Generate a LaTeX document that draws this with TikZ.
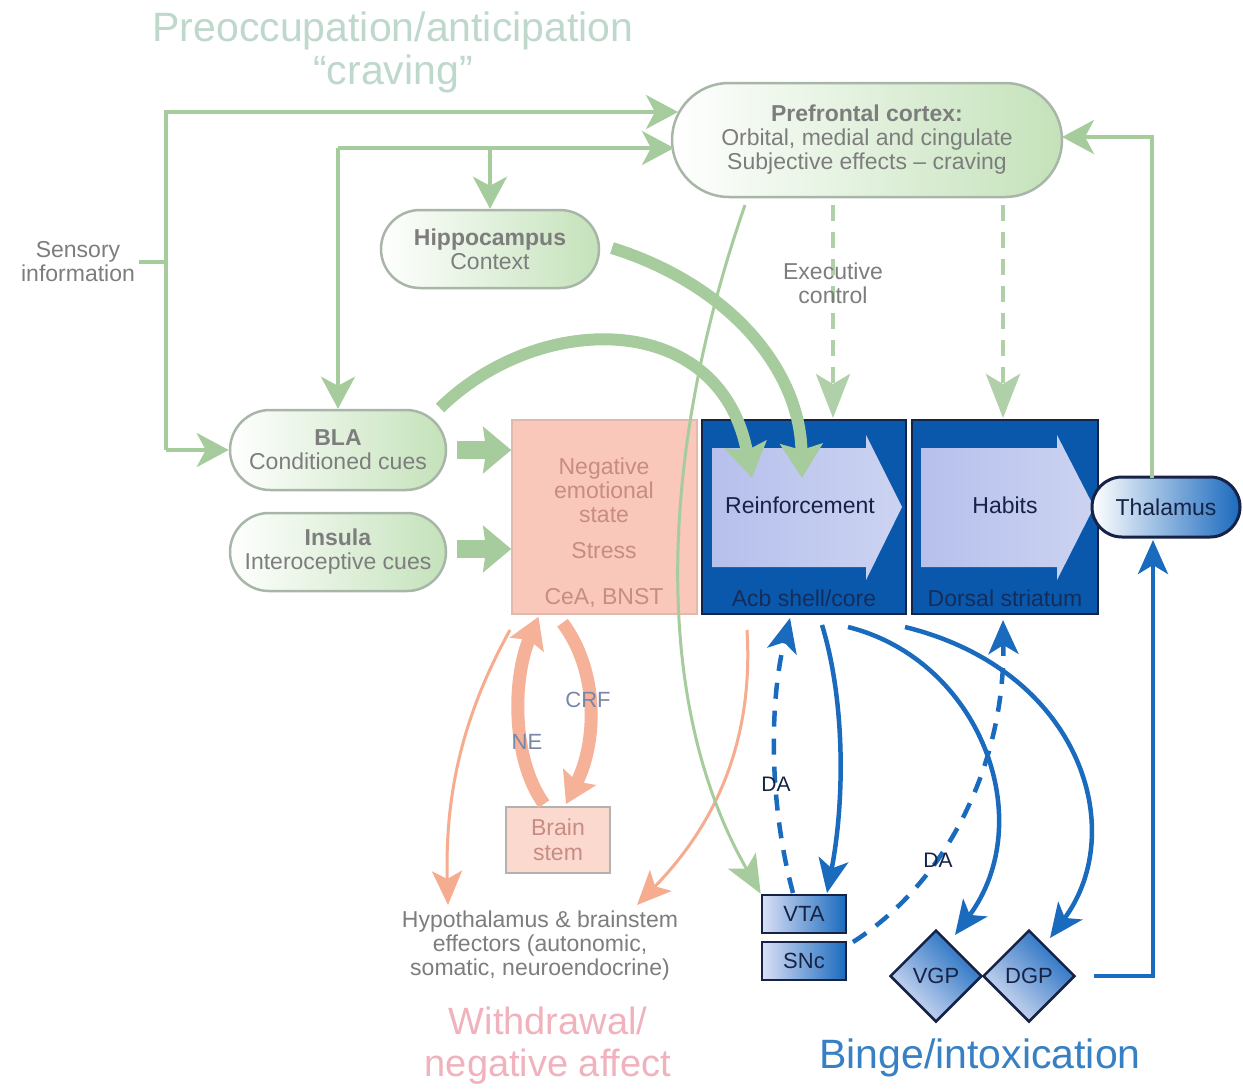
\documentclass[tikz,border=0pt]{standalone}
\usepackage{fontspec}
\setmainfont{Liberation Sans}
\usetikzlibrary{arrows.meta,shapes.geometric,calc}
\definecolor{gline}{RGB}{166,204,158}
\definecolor{gdash}{RGB}{176,208,170}
\definecolor{gfill}{RGB}{196,226,186}
\definecolor{gborder}{RGB}{168,182,168}
\definecolor{gtxt}{RGB}{125,125,125}
\definecolor{sal}{RGB}{246,172,142}
\definecolor{salthick}{RGB}{246,178,152}
\definecolor{salfill}{RGB}{249,200,186}
\definecolor{saltxt}{RGB}{200,140,130}
\definecolor{blu}{RGB}{26,106,190}
\definecolor{dblu}{RGB}{10,88,172}
\definecolor{lav}{RGB}{182,192,236}
\definecolor{navy}{RGB}{22,34,70}
\definecolor{titleg}{RGB}{190,216,204}
\definecolor{pinkt}{RGB}{240,178,188}
\definecolor{bingec}{RGB}{56,128,196}
\definecolor{ntxt}{RGB}{120,134,168}
\begin{document}
\begin{tikzpicture}[x=1pt,y=-1pt,
  lbl/.style={font=\fontsize{23}{24}\selectfont, align=center, inner sep=0pt},
  big/.style={font=\fontsize{41}{40}\selectfont, align=center, inner sep=0pt},
  gnode/.style={draw=gborder, line width=2.5pt, left color=white, right color=gfill,
     align=center, inner sep=0pt, text=gtxt, font=\fontsize{23}{24}\selectfont},
  gln/.style={draw=gline, line width=4pt},
  ghead/.style={-{Stealth[length=32pt,width=34pt,inset=9pt]}},
  gthick/.style={draw=gline, line width=12pt, -{Stealth[length=34pt,width=42pt,inset=6pt]}},
  gblock/.style={draw=gline, line width=18pt, -{Stealth[length=28pt,width=46pt,inset=3pt]}},
  gdashed/.style={draw=gdash, line width=4pt, dash pattern=on 16pt off 11pt, -{Stealth[length=44pt,width=34pt,inset=10pt]}},
  sline/.style={draw=sal, line width=3pt, -{Stealth[length=34pt,width=30pt,inset=8pt]}},
  sthick/.style={draw=salthick, line width=13pt, -{Stealth[length=30pt,width=36pt,inset=5pt]}},
  bline/.style={draw=blu, line width=4.5pt, -{Stealth[length=34pt,width=30pt,inset=9pt]}},
  bdash/.style={bline, dash pattern=on 16pt off 12pt},
  bbox/.style={draw=navy, line width=2.5pt, left color=lav!50!white, right color=blu,
     inner sep=0pt, text=navy, font=\fontsize{22}{22}\selectfont},
  inarrow/.style={left color=lav, right color=lav!70!white}
]
\path[use as bounding box, fill=white] (0,0) rectangle (1243,1088);

% titles
\node[big, text=titleg] (t1) at (393,31) {Preoccupation/anticipation};
\node[big, text=titleg] (t2) at (393,74) {“craving”};
\node[big, text=pinkt, font=\fontsize{38}{40}\selectfont] (w1) at (548,1021) {Withdrawal/};
\node[big, text=pinkt, font=\fontsize{38}{40}\selectfont] (w2) at (548,1067) {negative affect};
\node[big, text=bingec] (bi) at (980,1058) {Binge/intoxication};

% green nodes
\node[gnode, minimum width=390, minimum height=114, rounded corners=57pt] (pfc) at (867,140)
  {\textbf{Prefrontal cortex:}\\Orbital, medial and cingulate\\Subjective effects – craving};
\node[gnode, minimum width=218, minimum height=78, rounded corners=39pt] (hip) at (490,249)
  {\textbf{Hippocampus}\\Context};
\node[gnode, minimum width=216, minimum height=80, rounded corners=40pt] (bla) at (338,450)
  {\textbf{BLA}\\Conditioned cues};
\node[gnode, minimum width=216, minimum height=78, rounded corners=39pt] (ins) at (338,552)
  {\textbf{Insula}\\Interoceptive cues};
\node[lbl, text=gtxt] (sens) at (78,262) {Sensory\\information};

% CeA box
\node[draw=salfill!80!gray, line width=1.5pt, fill=salfill, minimum width=185, minimum height=194, inner sep=0pt] (cea) at (604.5,517) {};
\node[lbl, text=saltxt] (neg) at (604,490) {Negative\\emotional\\state};
\node[lbl, text=saltxt] (str) at (604,551) {Stress};
\node[lbl, text=saltxt] (ceat) at (604,598) {CeA, BNST};

% Acb and dorsal striatum boxes
\node[draw=navy, line width=2.5pt, fill=dblu, minimum width=204, minimum height=194, inner sep=0pt] (acb) at (804,517) {};
\node[draw=navy, line width=2.5pt, fill=dblu, minimum width=186, minimum height=194, inner sep=0pt] (ds) at (1005,517) {};
\shade[inarrow] (712,448) -- (866,448) -- (866,435) -- (902,507) -- (866,580) -- (866,567) -- (712,567) -- cycle;
\shade[inarrow] (921,448) -- (1057,448) -- (1057,435) -- (1094,507) -- (1057,580) -- (1057,567) -- (921,567) -- cycle;
\node[lbl, text=navy] (reinf) at (800,505) {Reinforcement};
\node[lbl, text=navy] (hab) at (1005,505) {Habits};
\node[lbl, text=navy!80!dblu] (acbt) at (804,598) {Acb shell/core};
\node[lbl, text=navy!80!dblu] (dst) at (1005,598) {Dorsal striatum};

% thalamus
\node[draw=navy, line width=3pt, left color=white, right color=blu, minimum width=148, minimum height=60,
  rounded corners=30pt, inner sep=0pt, text=navy, font=\fontsize{23}{24}\selectfont] (thal) at (1166,507) {Thalamus};

% green connectors
\coordinate (s1) at (166,112);
\coordinate (s2) at (166,450);
\coordinate (h1) at (338,148);
\coordinate (h2) at (490,148);
\coordinate (pfa) at (678,112);
\coordinate (pfb) at (674,148);
\coordinate (tht) at (1152,478);
\coordinate (pfr) at (1062,137);
\coordinate (sensend) at (166,262);
\draw[gln] (sens.east) ++(4,0) -- (sensend);
\draw[gln, ghead] (s2) |- (pfa);
\draw[gln, ghead] (s2) -- (bla.west);
\draw[gln, ghead] (h1) -- (pfb);
\draw[gln, ghead] (h1) -- (bla.north);
\draw[gln, ghead] (h2) -- (hip.north);
\draw[gln, ghead] (tht) |- (pfr);

% executive control
\coordinate (e1) at (833,205);
\coordinate (e2) at (833,418);
\coordinate (e3) at (1003,205);
\coordinate (e4) at (1003,418);
\draw[gdashed] (e1) -- (e2);
\draw[gdashed] (e3) -- (e4);
\node[lbl, text=gtxt] (exec) at (833,283) {Executive\\control};

% thick green arrows
\coordinate (hipout) at (612,248);
\coordinate (acbin1) at (802,478);
\coordinate (blaout) at (440,408);
\coordinate (acbin2) at (752,478);
\draw[gthick] (hipout) .. controls (730,285) and (800,370) .. (acbin1);
\draw[gthick] (blaout) .. controls (540,310) and (720,310) .. (acbin2);
\draw[gblock, shorten <=10pt] (bla.east) -- (cea.west |- bla.east);
\draw[gblock, shorten <=10pt] ($(ins.east)+(0,-3)$) -- (cea.west |- 0,549);

% brain stem
\node[draw=gray!60, line width=2pt, fill=salfill!70!white, minimum width=104, minimum height=66, inner sep=0pt,
  align=center, text=saltxt, font=\fontsize{23}{25}\selectfont] (bs) at (558,840) {Brain\\stem};

% hypothalamus text
\node[lbl, text=gtxt] (hyp) at (540,946) {Hypothalamus \& brainstem\\effectors (autonomic,\\somatic, neuroendocrine)};

% salmon arrows
\coordinate (cs1) at (510,630);
\coordinate (hy1) at (448,905);
\coordinate (cs2) at (747,630);
\coordinate (hy2) at (637,905);
\draw[sline] (cs1) .. controls (460,720) and (445,800) .. (hy1);
\draw[sline] (cs2) .. controls (755,760) and (700,840) .. (hy2);
\draw[sthick] ($(bs.north)+(-14,-2)$) .. controls (512,760) and (512,680) .. ($(cea.south)+(-66,2)$);
\draw[sthick] ($(cea.south)+(-42,8)$) .. controls (598,670) and (598,740) .. ($(bs.north)+(8,-2)$);
\node[font=\fontsize{22}{22}\selectfont, text=ntxt] (crf) at (588,700) {CRF};
\node[font=\fontsize{22}{22}\selectfont, text=ntxt] (ne) at (527,742) {NE};

% VTA / SNc
\node[bbox, minimum width=84, minimum height=38] (vta) at (804,914) {VTA};
\node[bbox, minimum width=84, minimum height=38] (snc) at (804,961) {SNc};
\node[bbox, diamond, aspect=1, minimum size=92, shading angle=135] (vgp) at (936,976) {VGP};
\node[bbox, diamond, aspect=1, minimum size=92, shading angle=135] (dgp) at (1029,976) {DGP};

% thin green curve PFC -> VTA
\coordinate (pfbot) at (745,205);
\draw[draw=gline, line width=3pt, -{Stealth[length=38pt,width=32pt,inset=9pt]}] (pfbot) .. controls (660,450) and (650,700) .. (vta.north west);

% blue arrows
\coordinate (da1s) at (793,893);
\coordinate (acbb1) at (790,618);
\coordinate (acbb2) at (822,625);
\coordinate (vtat) at (827,893);
\coordinate (acbb3) at (848,627);
\coordinate (vgpt) at (955,935);
\coordinate (dsb1) at (905,627);
\coordinate (dgpt) at (1050,938);
\coordinate (da2s) at (853,942);
\coordinate (dsb2) at (1003,620);
\coordinate (thb) at (1153,540);
\draw[bdash] (da1s) .. controls (768,800) and (770,700) .. (acbb1);
\draw[bline] (acbb2) .. controls (845,700) and (845,800) .. (vtat);
\draw[bline] (acbb3) .. controls (980,660) and (1040,820) .. (vgpt);
\draw[bline] (dsb1) .. controls (1080,670) and (1130,830) .. (dgpt);
\draw[bdash] (da2s) .. controls (950,880) and (1005,760) .. (dsb2);
\draw[bline, shorten <=18pt] (dgp.east) -| (thb);
\node[font=\fontsize{21}{21}\selectfont, text=navy] (da1) at (776,784) {DA};
\node[font=\fontsize{21}{21}\selectfont, text=navy] (da2) at (938,860) {DA};

\end{tikzpicture}
\end{document}
